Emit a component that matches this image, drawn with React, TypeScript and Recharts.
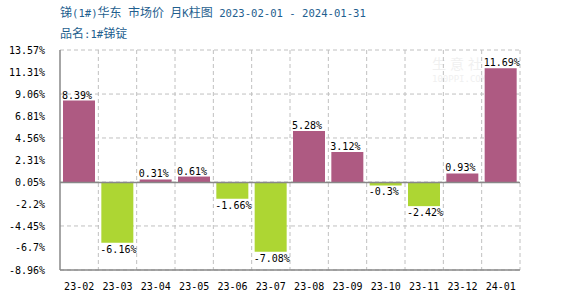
import React from "react";
import {
  BarChart,
  Bar,
  XAxis,
  YAxis,
  CartesianGrid,
  ReferenceLine,
  LabelList,
  Cell,
} from "recharts";

const months = ["23-02", "23-03", "23-04", "23-05", "23-06", "23-07", "23-08", "23-09", "23-10", "23-11", "23-12", "24-01"];
const changes = [8.39, -6.16, 0.31, 0.61, -1.66, -7.08, 5.28, 3.12, -0.3, -2.42, 0.93, 11.69];
const yTicks = [13.57, 11.31, 9.06, 6.81, 4.56, 2.31, 0.05, -2.2, -4.45, -6.7, -8.96];
const yTickLabels = ["13.57%", "11.31%", "9.06%", "6.81%", "4.56%", "2.31%", "0.05%", "-2.2%", "-4.45%", "-6.7%", "-8.96%"];

const UP = "#ae5a82";
const DOWN = "#add633";
const MONO = "'DejaVu Sans Mono', monospace";
const TITLE_FONT = "'DejaVu Sans Mono', 'Noto Sans CJK SC', sans-serif";

const data = months.map((m, i) => ({ month: m, value: changes[i] }));

function ValueLabel(props: any) {
  const { x, y, height, value } = props;
  if (value == null) return null;
  const top = Math.min(y, y + height);
  const bottom = Math.max(y, y + height);
  // positive: above the bar top, negative: under the bar bottom
  const ty = value >= 0 ? top - 2 : bottom + 10;
  return (
    <text x={x - 1} y={ty} fontSize={10} fontFamily={MONO} fill="#000" textAnchor="start">
      {`${value}%`}
    </text>
  );
}

const cjk = { fontSize: 12 };

export default function App() {
  return (
    <div style={{ position: "absolute", left: 0, top: 0, width: 570, height: 300, background: "#fff" }}>
      <div style={{ position: "absolute", left: 60, top: 5, fontSize: 10.6, color: "#1f5f8f", fontFamily: TITLE_FONT, whiteSpace: "pre", lineHeight: "16px" }}>
        <span style={cjk}>锑</span>(1#)<span style={cjk}>华东</span> <span style={cjk}>市场价</span> <span style={cjk}>月</span>K<span style={cjk}>柱图</span> 2023-02-01 - 2024-01-31
      </div>
      <div style={{ position: "absolute", left: 60, top: 26, fontSize: 10.6, color: "#1f5f8f", fontFamily: TITLE_FONT, whiteSpace: "pre", lineHeight: "16px" }}>
        <span style={cjk}>品名</span>:1#<span style={cjk}>锑锭</span>
      </div>
      {/* faint watermark */}
      <div style={{ position: "absolute", left: 432, top: 55, fontSize: 14, color: "#f0f0f0", fontFamily: "'Noto Sans CJK SC', sans-serif", lineHeight: "16px", letterSpacing: 4 }}>
        生意社
      </div>
      <div style={{ position: "absolute", left: 432, top: 73, fontSize: 9, color: "#f0f0f0", fontFamily: MONO, lineHeight: "12px" }}>
        100PPI.COM
      </div>
      <BarChart
        width={570}
        height={300}
        data={data}
        margin={{ top: 50, right: 50, bottom: 0, left: 0 }}
        barCategoryGap={3}
        style={{ position: "absolute", left: 0, top: 0 }}
      >
        <CartesianGrid
          stroke="#c0c0c0"
          strokeDasharray="4 3"
          verticalCoordinatesGenerator={({ offset }: any) =>
            months.map((_, i) => offset.left + ((i + 1) * offset.width) / months.length)
          }
        />
        <XAxis
          dataKey="month"
          height={30}
          tickLine={false}
          tickSize={0}
          tickMargin={13}
          axisLine={{ stroke: "#888", strokeWidth: 1.5 }}
          tick={{ fontSize: 10, fontFamily: MONO, fill: "#000" }}
          interval={0}
        />
        <YAxis
          width={60}
          domain={[-8.96, 13.57]}
          ticks={yTicks}
          tickFormatter={(v: number) => yTickLabels[yTicks.indexOf(v)] ?? `${v}%`}
          tickLine={false}
          tickSize={0}
          tickMargin={15}
          axisLine={{ stroke: "#888", strokeWidth: 1.5 }}
          tick={{ fontSize: 10, fontFamily: MONO, fill: "#000" }}
          allowDataOverflow
        />
        <ReferenceLine y={0} stroke="#888" strokeWidth={1.5} />
        <Bar dataKey="value" barSize={32} isAnimationActive={false}>
          {data.map((d, i) => (
            <Cell key={`c-${i}`} fill={d.value >= 0 ? UP : DOWN} />
          ))}
          <LabelList dataKey="value" content={<ValueLabel />} />
        </Bar>
      </BarChart>
    </div>
  );
}
